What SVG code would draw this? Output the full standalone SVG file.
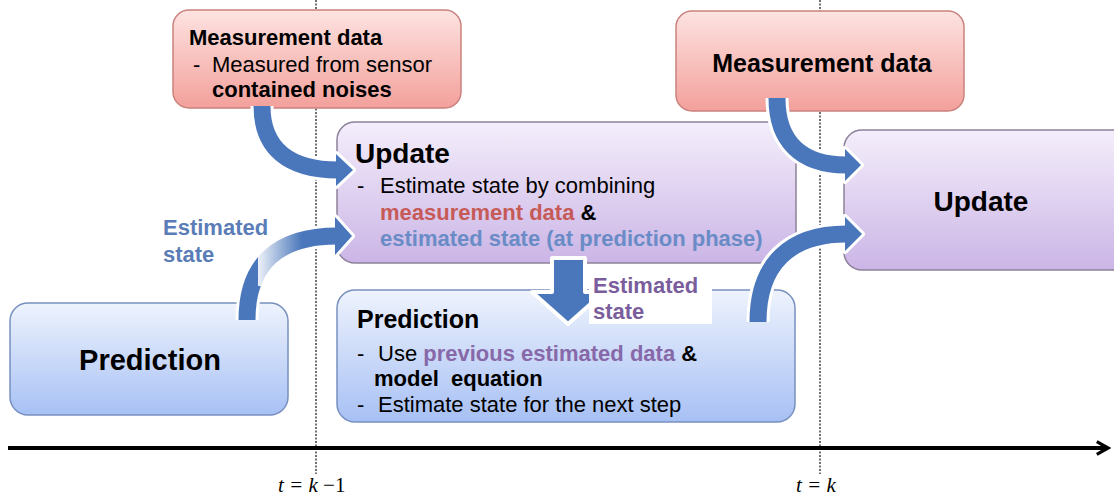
<svg xmlns="http://www.w3.org/2000/svg" width="1114" height="495" viewBox="0 0 1114 495">
<defs>
<linearGradient id="gRed" x1="0" y1="0" x2="0" y2="1"><stop offset="0" stop-color="#fde3e1"/><stop offset="1" stop-color="#f3a09b"/></linearGradient>
<linearGradient id="gPur" x1="0" y1="0" x2="0" y2="1"><stop offset="0" stop-color="#f4eefb"/><stop offset="1" stop-color="#cbb5e6"/></linearGradient>
<linearGradient id="gBlu" x1="0" y1="0" x2="0" y2="1"><stop offset="0" stop-color="#eef3fd"/><stop offset="1" stop-color="#a7c0f4"/></linearGradient>
<linearGradient id="gFade" x1="0" y1="0" x2="1" y2="0"><stop offset="0" stop-color="#fff" stop-opacity="0.9"/><stop offset="1" stop-color="#fff" stop-opacity="0"/></linearGradient>
<marker id="axisHead" viewBox="0 0 10 10" refX="8" refY="5" markerWidth="4" markerHeight="4" orient="auto"><path d="M1 1 L8 5 L1 9" fill="none" stroke="#000" stroke-width="2"/></marker>
</defs>
<style>
text{font-family:"Liberation Sans",Arial,sans-serif;fill:#000}
.b{font-weight:bold}
.cr{fill:#c65a57}
.cb{fill:#6a8cc6}
.cb2{fill:#5a7db8}
.cp{fill:#8768a8}
.cp2{fill:#7a5d9c}
.red{fill:url(#gRed);stroke:#c9827e;stroke-width:1.5}
.pur{fill:url(#gPur);stroke:#8d8199;stroke-width:1.5}
.blu{fill:url(#gBlu);stroke:#7890bf;stroke-width:1.5}
.dash{stroke:#111;stroke-width:1.2;stroke-dasharray:2 1.5}
.sw{fill:none;stroke:#fff;stroke-width:23}
.sb{fill:none;stroke:#4a77bb;stroke-width:17}
.hw{fill:#fff;stroke:#fff;stroke-width:6;stroke-linejoin:round}
.hb{fill:#4a77bb}
.tl{font-family:"Liberation Serif","Times New Roman",serif;font-size:21px;font-style:italic}
.pre{white-space:pre}
</style>

<g id="timeline">
<line class="dash" x1="316" y1="0" x2="316" y2="474"/>
<line class="dash" x1="820" y1="0" x2="820" y2="474"/>
<line x1="8" y1="448" x2="1108" y2="448" stroke="#000" stroke-width="4" marker-end="url(#axisHead)"/>
<text class="tl" x="278" y="492">t = k <tspan font-style="normal">−</tspan><tspan font-style="normal">1</tspan></text>
<text class="tl" x="796" y="492">t = k</text>
</g>

<g id="meas1">
<rect class="red" x="173" y="10" width="288" height="98" rx="16"/>
<text class="b" x="189" y="45" font-size="22">Measurement data</text>
<text x="193" y="72" font-size="22">-</text>
<text x="212" y="72" font-size="22">Measured from sensor</text>
<text class="b" x="212" y="97" font-size="22">contained noises</text>
</g>

<g id="meas2">
<rect class="red" x="676" y="11" width="288" height="100" rx="16"/>
<text class="b" x="822" y="72" font-size="25" text-anchor="middle">Measurement data</text>
</g>

<g id="update1">
<rect class="pur" x="337" y="122" width="459" height="141" rx="18"/>
<text class="b" x="355" y="163" font-size="28">Update</text>
<text x="357" y="193" font-size="22">-</text>
<text x="380" y="193" font-size="22">Estimate state by combining</text>
<text class="b" x="380" y="220" font-size="22"><tspan class="cr">measurement data</tspan> &amp;</text>
<text class="b cb" x="380" y="246" font-size="22">estimated state (at prediction phase)</text>
</g>

<g id="update2">
<rect class="pur" x="844" y="130" width="290" height="140" rx="18"/>
<text class="b" x="981" y="211" font-size="28" text-anchor="middle">Update</text>
</g>

<g id="pred1">
<rect class="blu" x="10" y="303" width="278" height="112" rx="18"/>
<text class="b" x="150" y="370" font-size="29" text-anchor="middle">Prediction</text>
</g>

<g id="pred2">
<rect class="blu" x="337" y="290" width="458" height="132" rx="18"/>
<text class="b" x="357" y="328" font-size="25">Prediction</text>
<text x="357" y="361" font-size="22">-</text>
<text x="378" y="361" font-size="22">Use <tspan class="b cp">previous estimated data</tspan><tspan class="b"> &amp;</tspan></text>
<text class="b pre" x="374" y="386" font-size="22">model  equation</text>
<text x="357" y="412" font-size="22">-</text>
<text x="378" y="412" font-size="22">Estimate state for the next step</text>
</g>

<g id="connectors">
<!-- meas1 -> update1 -->
<path class="sw" d="M262 106 C262 148 288 170 338 170"/>
<polygon class="hw" points="336,154 353,170 336,186"/>
<path class="sb" d="M262 106 C262 148 288 170 338 170"/>
<polygon class="hb" points="336,154 353,170 336,186"/>
<!-- pred1 -> update1 -->
<path class="sw" d="M247 320 C247 262 280 236 337 236" stroke-width="26"/>
<polygon class="hw" points="335,217 352,236 335,255"/>
<path class="sb" d="M247 320 C247 262 280 236 337 236" stroke-width="20"/>
<polygon class="hb" points="335,217 352,236 335,255"/>
<rect x="258" y="222" width="44" height="64" fill="url(#gFade)"/>
<!-- update1 -> pred2 -->
<polygon points="552,258 585,258 585,292 604,292 568,324 532,292 552,292" fill="#4a77bb" stroke="#fff" stroke-width="4" stroke-linejoin="round"/>
<!-- meas2 -> update2 -->
<path class="sw" d="M777 98 C777 140 800 165 846 165"/>
<polygon class="hw" points="845,149 861,165 845,181"/>
<path class="sb" d="M777 98 C777 140 800 165 846 165"/>
<polygon class="hb" points="845,149 861,165 845,181"/>
<!-- pred2 -> update2 -->
<path class="sw" d="M758 322 C758 264 790 234 846 234"/>
<polygon class="hw" points="845,217 862,234 845,251"/>
<path class="sb" d="M758 322 C758 264 790 234 846 234"/>
<polygon class="hb" points="845,217 862,234 845,251"/>
</g>

<g id="labels">
<text class="b cb2" x="163" y="235" font-size="22">Estimated</text>
<text class="b cb2" x="163" y="262" font-size="22">state</text>
<rect x="589" y="268" width="123" height="56" fill="#fff"/>
<text class="b cp2" x="593" y="293" font-size="22">Estimated</text>
<text class="b cp2" x="593" y="319" font-size="22">state</text>
</g>
</svg>
